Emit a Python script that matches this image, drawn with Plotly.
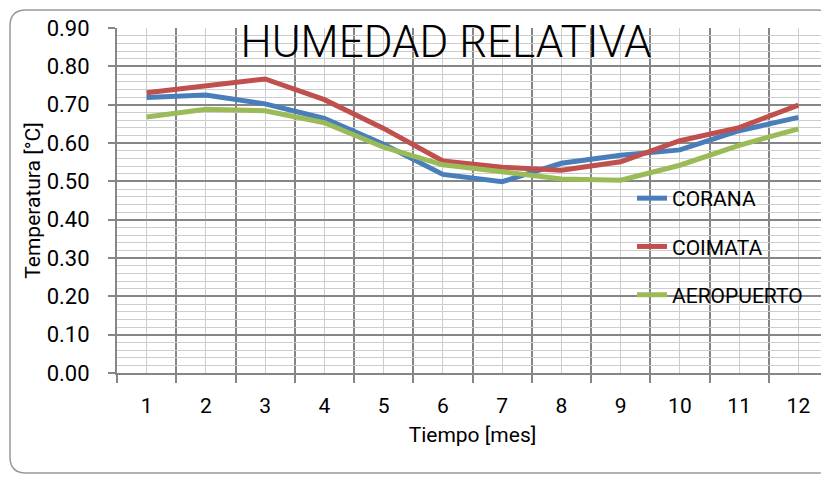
import plotly.graph_objects as go

# ── Data ───────────────────────────────────────────────────────────────────
meses = [1, 2, 3, 4, 5, 6, 7, 8, 9, 10, 11, 12]
mes_labels = [str(m) for m in meses]

corana = [0.719, 0.725, 0.702, 0.664, 0.597, 0.518, 0.499, 0.547, 0.568, 0.582, 0.632, 0.667]
coimata = [0.731, 0.748, 0.767, 0.713, 0.638, 0.553, 0.537, 0.529, 0.551, 0.606, 0.640, 0.699]
aeropuerto = [0.668, 0.688, 0.684, 0.653, 0.589, 0.543, 0.525, 0.506, 0.503, 0.542, 0.594, 0.637]

series = [
    ("CORANA", corana, "#4A7EBB"),
    ("COIMATA", coimata, "#C0504D"),
    ("AEROPUERTO", aeropuerto, "#9BBB59"),
]

FONT = "Roboto, sans-serif"
DARK = "#868686"
LIGHT = "#cdcdcd"

fig = go.Figure()
for i, (name, vals, color) in enumerate(series):
    fig.add_trace(
        go.Scatter(
            x=meses, y=vals, name=name, mode="lines",
            line=dict(color=color, width=5),
            legendgroup=f"g{i}",
        )
    )

# ── Geometry (page body adds an 8px offset, so work in screen px - 8) ─────
OFF = 8
W, H = 829 - OFF, 477 - OFF
L, T = 117 - OFF, 28 - OFF
R = W - (828 - OFF)
B = H - (373 - OFF)
pw, ph = W - L - R, H - T - B


def px(x):  # screen px -> paper x
    return (x - OFF - L) / pw


def py(y):  # screen px -> paper y
    return (H - B - (y - OFF)) / ph


# rounded chart-area border (decoration)
x0, x1, y0, y1 = px(10), px(833), py(10), py(473)
rx, ry = 16 / pw, 16 / ph
border = (
    f"M {x0},{y0 - ry} L {x0},{y1 + ry} Q {x0},{y1} {x0 + rx},{y1} "
    f"L {x1 - rx},{y1} Q {x1},{y1} {x1},{y1 + ry} "
    f"L {x1},{y0 - ry} Q {x1},{y0} {x1 - rx},{y0} "
    f"L {x0 + rx},{y0} Q {x0},{y0} {x0},{y0 - ry} Z"
)

fig.update_layout(
    width=W, height=H,
    margin=dict(l=L, r=R, t=T, b=B, autoexpand=False),
    paper_bgcolor="white",
    plot_bgcolor="white",
    font=dict(family=FONT, size=20, color="black"),
    title=dict(
        text="HUMEDAD RELATIVA",
        font=dict(family=FONT, size=44, color="black", weight=300),
        x=(446 - OFF) / W, xanchor="center",
        y=1 - (42 - OFF) / H, yanchor="middle", yref="container",
    ),
    legend=dict(
        x=px(632), xanchor="left",
        y=py(178), yanchor="top",
        bgcolor="rgba(0,0,0,0)",
        font=dict(family=FONT, size=21),
        tracegroupgap=18,
        itemwidth=30,
    ),
    shapes=[
        dict(type="path", xref="paper", yref="paper", path=border,
             line=dict(color="#9a9a9a", width=1.5), layer="below"),
    ],
)

fig.update_xaxes(
    range=[0.5, 12.5],
    tickvals=meses, ticktext=mes_labels,
    ticks="outside", ticklen=13, tickcolor="rgba(0,0,0,0)",
    showgrid=True, gridcolor=LIGHT, gridwidth=1.3,
    minor=dict(tick0=0.5, dtick=1, showgrid=True, gridcolor=DARK, gridwidth=1.5,
               ticks="outside", ticklen=8, tickcolor=DARK, tickwidth=1.5),
    showline=True, linecolor=DARK, linewidth=2,
    zeroline=False,
    title=dict(text="Tiempo [mes]", font=dict(family=FONT, size=21), standoff=10),
    tickfont=dict(family=FONT, size=21),
)
fig.update_yaxes(
    range=[0, 0.9],
    dtick=0.1, tick0=0, tickformat=".2f",
    ticks="outside", ticklen=7, tickcolor=DARK, tickwidth=1.5,
    showgrid=True, gridcolor=DARK, gridwidth=1.5,
    minor=dict(dtick=0.02, showgrid=True, gridcolor=LIGHT, gridwidth=1.3),
    showline=True, linecolor=DARK, linewidth=2,
    zeroline=False,
    ticklabelstandoff=14,
    title=dict(text="Temperatura [°C]", font=dict(family=FONT, size=21), standoff=0),
    tickfont=dict(family=FONT, size=22),
)

fig.write_html("out.html")
